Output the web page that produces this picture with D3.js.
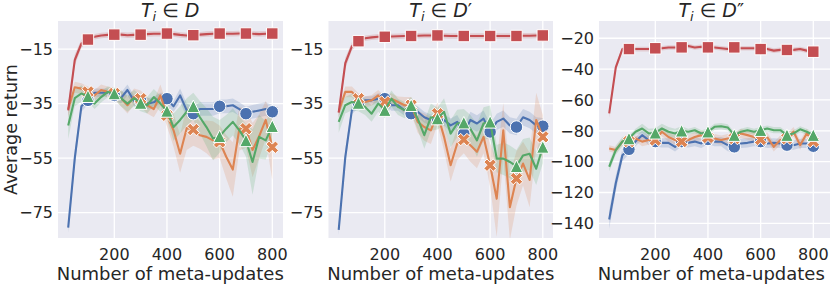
<!DOCTYPE html>
<html>
<head>
<meta charset="utf-8">
<script src="https://cdn.jsdelivr.net/npm/d3@7"></script>
<style>
  body { margin: 0; background: #fff; }
  svg { display: block; font-family: "DejaVu Sans", sans-serif; }
</style>
</head>
<body>
<script>
// x values of the curves, and where the markers sit
const steps = [25, 50, 75, 100, 125, 150, 175, 200, 225, 250, 275, 300, 325, 350, 375, 400,
               425, 450, 475, 500, 525, 550, 575, 600, 625, 650, 675, 700, 725, 750, 775, 800];
const markerSteps = [100, 200, 300, 400, 500, 600, 700, 800];
const xTicks = [200, 400, 600, 800];
const yTicksD = [-15, -35, -55, -75];
const yTicksD2 = [-20, -40, -60, -80, -100, -120, -140];
const titlePrimes = ['', '\u2032', '\u2033'];

// panel 1 : T_i in D
const dBlue   = [-80.5, -55, -36, -33.8, -31, -31, -31, -32, -33, -30, -34, -34, -35, -34.5, -33, -33.2,
                 -36, -32, -37.5, -38.7, -37, -37, -37, -36, -36, -35.6, -37, -38.7, -38, -37.5, -37, -38];
const dOrange = [-37, -29, -29.5, -30.7, -32, -30, -30.7, -31.3, -33, -35.6, -32.5, -33.2, -35.6, -37, -32, -39.3,
                 -44.8, -53.4, -44, -44.5, -46.6, -47.2, -48.5, -49, -54.5, -59.2, -44.2, -44.2, -52, -47, -41, -51];
const dGreen  = [-43, -33, -31.3, -32.3, -35, -32.6, -30.7, -31.3, -33, -35, -33, -34.8, -35.6, -32.6, -35, -37.7,
                 -43.6, -41, -38, -36, -40, -43.6, -47.8, -47, -44.2, -41.7, -44.8, -48.5, -56.4, -47.2, -48.5, -43.3];
const dRed    = [-37.5, -19, -13, -11.5, -10.5, -10, -9.8, -9.7, -9.7, -9.9, -9.8, -9.7, -9.5, -9.4, -9.4, -9.3,
                 -9.5, -9.8, -10, -9.9, -9.7, -9.5, -9.4, -9.3, -9.4, -9.4, -9.3, -9.3, -9.4, -9.5, -9.4, -9.3];
// half widths of the confidence bands
const dBlueCI   = [2, 3, 2, 1.5, 1.5, 1.5, 1.5, 1.5, 2, 2, 2, 2, 2, 2, 2, 2,
                   2, 2.5, 2.5, 2.5, 2.5, 2.5, 2.5, 2.5, 2.5, 2.5, 2.5, 2.5, 2.5, 2.5, 2.5, 2.5];
const dOrangeCI = [3, 2, 2, 2, 2, 2, 2, 2, 3, 3, 3, 3, 3, 3, 4, 4,
                   6, 7, 8, 6, 5, 6, 7, 6, 8, 10, 8, 7, 10, 8, 7, 12];
const dGreenCI  = [5, 3, 3, 2, 2, 2, 2, 2, 3, 3, 3, 3, 3, 3, 3, 3,
                   5, 5, 5, 5, 6, 7, 8, 6, 5, 5, 5, 6, 12, 8, 7, 6];
const dRedCI    = [2, 2, 1.5, 1, 1, 1, 1, 1, 1, 1, 1, 1, 1, 1, 1, 1,
                   1, 1, 1, 1, 1, 1, 1, 1, 1, 1, 1, 1, 1, 1, 1, 1];

// panel 2 : T_i in D'
const d1Blue   = [-81.3, -54.6, -37.4, -35, -33.8, -33.8, -33.2, -33.2, -35.6, -35.6, -37.5, -38.7, -38, -40, -41, -40.5,
                  -41, -43, -41.7, -46, -41, -42.3, -40.5, -45.4, -41.7, -40.5, -43, -43.6, -40, -41, -43, -43.3];
const d1Orange = [-38, -30.7, -30.7, -33.2, -34.4, -33.8, -32, -34.4, -33.2, -34.4, -35.6, -35.6, -41.7, -43.6, -44.8, -38.7,
                  -47.2, -57.6, -49.7, -48.2, -50.3, -52.7, -47.2, -57.6, -69.9, -44.8, -73, -62.5, -57, -63, -41, -47.2];
const d1Green  = [-41.7, -35.6, -34.4, -34.8, -36.2, -38.7, -35, -37.4, -33.2, -36.2, -37.4, -35.6, -40.5, -46.6, -40, -40.5,
                  -38, -46, -42.3, -42, -44.2, -48.5, -42.3, -41.7, -55.2, -55.2, -56.4, -58, -54, -53.4, -58.9, -50.9];
const d1Red    = [-38.3, -20.2, -14, -12.1, -11, -10.7, -10.5, -10.5, -10.4, -10.3, -10.2, -10.2, -10.1, -10, -10, -10,
                  -10.1, -10.2, -10.2, -10.2, -10.2, -10.2, -10.2, -10.2, -10.2, -10.2, -10.2, -10.2, -10.1, -10.1, -10, -10];
const d1BlueCI   = [2, 3, 1.5, 1.5, 1.5, 1.5, 2, 2, 2, 2, 2, 2, 2, 2, 2, 2,
                    2, 2.5, 2.5, 2.5, 3, 3, 3, 3, 3, 3, 3, 3, 3, 3, 3, 3];
const d1OrangeCI = [2, 2, 2, 2, 2, 2, 2, 2, 2, 2, 3, 3, 4, 5, 5, 4,
                    5, 6, 6, 5, 6, 6, 6, 8, 14, 10, 12, 10, 8, 10, 10, 8];
const d1GreenCI  = [4, 3, 3, 3, 3, 3, 3, 3, 3, 3, 3, 3, 4, 5, 5, 4,
                    5, 5, 5, 5, 5, 6, 6, 6, 5, 6, 6, 6, 6, 6, 6, 6];
const d1RedCI    = [2, 2, 1.5, 1, 1, 1, 1, 1, 1, 1, 1, 1, 1, 1, 1, 1,
                    1, 1, 1, 1, 1, 1, 1, 1, 1, 1, 1, 1, 1, 1, 1, 1];

// panel 3 : T_i in D''
const d2Blue   = [-137.5, -114, -95.8, -92, -87, -82.8, -86, -87, -87.8, -87.8, -90.4, -87, -87.8, -87, -88.2, -85.6,
                  -87, -87, -89.3, -90.4, -88.2, -87.8, -87, -87, -88.2, -87.8, -88.2, -89.3, -89.3, -88.2, -88.2, -90];
const d2Orange = [-91.4, -92.5, -87, -87, -85, -87, -86, -86, -80.6, -84, -86, -87, -86, -84, -82.8, -84.3,
                  -85, -86, -85, -85, -81.7, -82.8, -84, -85.6, -84, -90.4, -86, -85, -80.6, -89.3, -81.7, -87];
const d2Green  = [-103.3, -92.5, -87, -85, -80.6, -78.5, -81.7, -81.3, -78.5, -80.6, -81.7, -80, -80.6, -79.6, -81.7, -80.6,
                  -77.4, -77, -77.8, -82.8, -80.6, -79.6, -80.6, -79.6, -78.5, -79.6, -79.6, -82.8, -81.7, -79, -80.6, -82.8];
const d2Red    = [-68.7, -38.9, -27, -27, -27, -27, -27, -26.5, -26.5, -26, -26, -25.9, -25, -26, -25.5, -25.9,
                  -26, -26.5, -27, -25.9, -26.5, -26.5, -26.5, -27, -27, -28, -27.5, -27.6, -27.5, -27, -28, -28.7];
const d2BlueCI   = [6, 5, 4, 3, 3, 3, 3, 3, 3, 3, 3, 3, 3, 3, 3, 3,
                    3, 3, 4, 3, 3, 3, 3, 3, 3, 3, 3, 3, 3, 3, 3, 3];
const d2OrangeCI = [2, 2, 2, 2, 2, 3, 3, 3, 3, 3, 3, 3, 3, 3, 3, 3,
                    3, 3, 3, 3, 3, 3, 3, 3, 3, 3, 3, 3, 3, 3, 3, 3];
const d2GreenCI  = [3, 3, 3, 2, 2, 3, 3, 3, 3, 3, 3, 3, 2, 2, 2, 2,
                    2, 2, 2, 2, 2, 2, 2, 2, 2, 2, 2, 2, 2, 2, 2, 2];
const d2RedCI    = [3, 2, 1.5, 1.5, 1.5, 1.5, 1.5, 1.5, 1.5, 1.5, 1.5, 1.5, 1.5, 1.5, 1.5, 1.5,
                    1.5, 1.5, 1.5, 1.5, 1.5, 1.5, 1.5, 1.5, 1.5, 1.5, 1.5, 1.5, 1.5, 1.5, 1.5, 1.5];

const colors = ['#4C72B0', '#DD8452', '#55A868', '#C44E52'];
const markers = ['circle', 'x', 'triangle', 'square'];

const panels = [
  { left: 58,  bgRight: 283, yDomain: [-84.3, -4.7], yTicks: yTicksD,
    series: [[dBlue, dBlueCI], [dOrange, dOrangeCI], [dGreen, dGreenCI], [dRed, dRedCI]] },
  { left: 328.5, bgRight: 553, yDomain: [-84.3, -4.7], yTicks: yTicksD,
    series: [[d1Blue, d1BlueCI], [d1Orange, d1OrangeCI], [d1Green, d1GreenCI], [d1Red, d1RedCI]] },
  { left: 599, bgRight: 830, yDomain: [-149.5, -8.8], yTicks: yTicksD2,
    series: [[d2Blue, d2BlueCI], [d2Orange, d2OrangeCI], [d2Green, d2GreenCI], [d2Red, d2RedCI]] }
];

const W = 830, H = 284;
const plotTop = 21, plotBottom = 238, plotW = 224.5;
const ms = 12.5; // marker size
const textColor = '#262626';

const svg = d3.select('body').append('svg')
  .attr('width', W)
  .attr('height', H);

function markerPath(type) {
  const h = ms / 2;
  const p = d3.path();
  if (type === 'circle') {
    p.arc(0, 0, h, 0, 2 * Math.PI);
  } else if (type === 'square') {
    p.rect(-h * 0.92, -h * 0.92, h * 1.84, h * 1.84);
  } else if (type === 'triangle') {
    p.moveTo(0, -h); p.lineTo(h, h); p.lineTo(-h, h); p.closePath();
  } else {
    // filled X like matplotlib
    const pts = [[0.25, 0], [0.5, 0.25], [0.25, 0.5], [0, 0.25], [-0.25, 0.5], [-0.5, 0.25],
                 [-0.25, 0], [-0.5, -0.25], [-0.25, -0.5], [0, -0.25], [0.25, -0.5], [0.5, -0.25]];
    pts.forEach((q, i) => i ? p.lineTo(q[0] * ms, q[1] * ms) : p.moveTo(q[0] * ms, q[1] * ms));
    p.closePath();
  }
  return p.toString();
}

panels.forEach((panel, pi) => {
  const x = d3.scaleLinear().domain([-13.75, 838.75]).range([panel.left, panel.left + plotW]);
  const y = d3.scaleLinear().domain(panel.yDomain).range([plotBottom, plotTop]);
  const g = svg.append('g');

  g.append('rect')
    .attr('x', panel.left).attr('y', plotTop)
    .attr('width', panel.bgRight - panel.left).attr('height', plotBottom - plotTop)
    .attr('fill', '#EAEAF2');

  const clipId = 'clip' + pi;
  svg.append('clipPath').attr('id', clipId).append('rect')
    .attr('x', panel.left).attr('y', plotTop)
    .attr('width', panel.bgRight - panel.left).attr('height', plotBottom - plotTop);

  // grid
  g.selectAll('.vgrid').data(xTicks).enter().append('line')
    .attr('x1', d => x(d)).attr('x2', d => x(d))
    .attr('y1', plotTop).attr('y2', plotBottom)
    .attr('stroke', '#fff').attr('stroke-width', 1.3);
  g.selectAll('.hgrid').data(panel.yTicks).enter().append('line')
    .attr('x1', panel.left).attr('x2', panel.bgRight)
    .attr('y1', d => y(d)).attr('y2', d => y(d))
    .attr('stroke', '#fff').attr('stroke-width', 1.3);

  // tick labels
  const fmt = d3.format('d');
  g.selectAll('.xt').data(xTicks).enter().append('text')
    .attr('x', d => x(d)).attr('y', 259.5)
    .attr('text-anchor', 'middle')
    .attr('font-size', 16).attr('fill', textColor)
    .text(d => fmt(d));
  g.selectAll('.yt').data(panel.yTicks).enter().append('text')
    .attr('x', panel.left - 5).attr('y', d => y(d) + 5.8)
    .attr('text-anchor', 'end')
    .attr('font-size', 16).attr('fill', textColor)
    .text(d => fmt(d));

  const plot = g.append('g').attr('clip-path', `url(#${clipId})`);

  // confidence bands first
  panel.series.forEach(([vals, ci], si) => {
    const area = d3.area()
      .x((d, i) => x(steps[i]))
      .y0((d, i) => y(d - ci[i]))
      .y1((d, i) => y(d + ci[i]));
    plot.append('path')
      .attr('d', area(vals))
      .attr('fill', colors[si])
      .attr('fill-opacity', 0.2);
  });

  // lines with markers
  panel.series.forEach(([vals], si) => {
    const line = d3.line()
      .x((d, i) => x(steps[i]))
      .y(d => y(d));
    plot.append('path')
      .attr('d', line(vals))
      .attr('fill', 'none')
      .attr('stroke', colors[si])
      .attr('stroke-width', 2.1)
      .attr('stroke-linejoin', 'round');
    const pts = markerSteps.map(s => [s, vals[steps.indexOf(s)]]);
    plot.selectAll(null).data(pts).enter().append('path')
      .attr('transform', d => `translate(${x(d[0])},${y(d[1])})`)
      .attr('d', markerPath(markers[si]))
      .attr('fill', colors[si])
      .attr('stroke', '#fff')
      .attr('stroke-width', 1);
  });

  // title
  const cx = (panel.left + panel.left + plotW) / 2;
  const t = svg.append('text')
    .attr('x', cx).attr('y', 17)
    .attr('text-anchor', 'middle')
    .attr('font-size', 19).attr('fill', textColor);
  t.append('tspan').attr('font-style', 'italic').text('T');
  t.append('tspan').attr('font-style', 'italic').attr('font-size', 13)
    .attr('dy', 4).text('i');
  t.append('tspan').attr('dy', -4).text(' \u2208 ');
  t.append('tspan').attr('font-style', 'italic').text('D');
  if (titlePrimes[pi]) t.append('tspan').text(titlePrimes[pi]);

  // x label
  svg.append('text')
    .attr('x', cx).attr('y', 280)
    .attr('text-anchor', 'middle')
    .attr('font-size', 18).attr('fill', textColor)
    .text('Number of meta-updates');
});

svg.append('text')
  .attr('transform', `translate(16.5,${(plotTop + plotBottom) / 2}) rotate(-90)`)
  .attr('text-anchor', 'middle')
  .attr('font-size', 17.5).attr('fill', textColor)
  .text('Average return');
</script>
</body>
</html>
